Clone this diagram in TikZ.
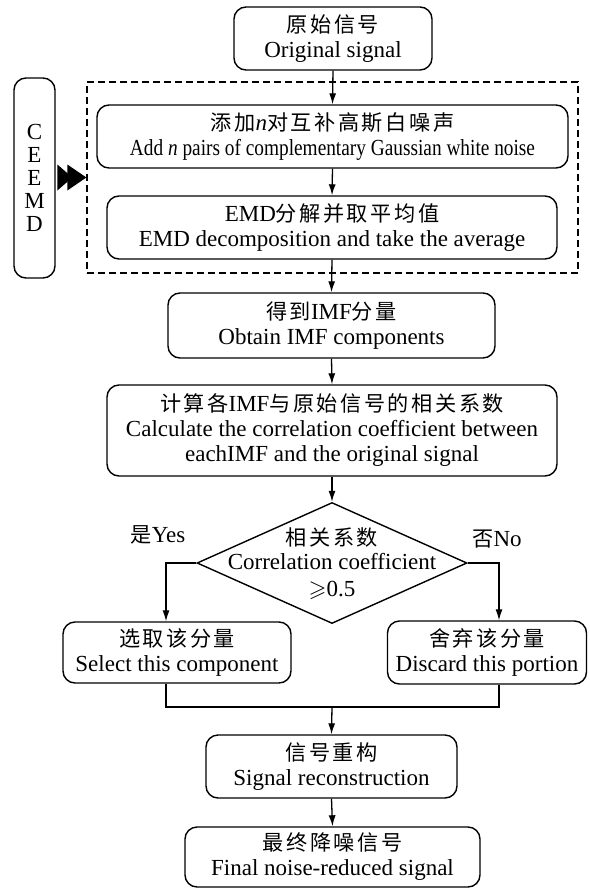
\documentclass[tikz,border=0pt]{standalone}
\usepackage{amssymb}
\usepackage{fontspec}
\setmainfont{Liberation Serif}
\newfontfamily\cjk[Scale=0.92,LetterSpace=12]{Noto Sans CJK SC}
\usetikzlibrary{arrows.meta,shapes.geometric,calc}
\begin{document}
\begin{tikzpicture}[x=1pt,y=-1pt,
  every node/.style={font=\fontsize{23}{25}\selectfont},
  box/.style={draw,line width=1.4pt,rounded corners=12pt,align=center,inner sep=0pt},
  conn/.style={line width=1.3pt},
  arr/.style={conn,-{Latex[length=11pt,width=7pt]}},
]
\useasboundingbox (0,0) rectangle (589,891);
\node[box,minimum width=198,minimum height=63] (orig) at (333,38.5) {{\cjk 原始信号}\\Original signal};
\node[draw,dashed,line width=1.3pt,dash pattern=on 7pt off 4pt,minimum width=491,minimum height=191,inner sep=0pt] (dash) at (332.5,177.5) {};
\node[box,minimum width=471,minimum height=63] (add) at (332.5,136.5) {{\cjk 添加}\textit{n}{\cjk 对互补高斯白噪声}\\\scalebox{0.84}[1]{Add \textit{n} pairs of complementary Gaussian white noise}};
\node[box,minimum width=450,minimum height=63] (emd) at (332,227.5) {EMD{\cjk 分解并取平均值}\\EMD decomposition and take the average};
\node[box,minimum width=41,minimum height=200] (ceemd) at (34.5,178) {C\\[-2pt]E\\[-2pt]E\\[-2pt]M\\[-2pt]D};
\node[box,minimum width=327,minimum height=65] (imf) at (331.5,325.5) {{\cjk 得到}IMF{\cjk 分量}\\Obtain IMF components};
\node[box,minimum width=450,minimum height=91] (calc) at (332,430.5) {{\cjk 计算各}IMF{\cjk 与原始信号的相关系数}\\Calculate the correlation coefficient between\\eachIMF and the original signal};
\node[draw,line width=1.4pt,diamond,aspect=2.23,minimum width=270,minimum height=121,inner sep=0pt,align=center] (diam) at (332,563) {};
\node[align=center] (dtext) at (332,564) {{\cjk 相关系数}\\[-1pt]Correlation coefficient\\[2pt]$\geqslant$0.5};
\node[box,minimum width=228,minimum height=61] (sel) at (177,652.5) {{\cjk 选取该分量}\\Select this component};
\node[box,minimum width=199,minimum height=63] (dis) at (487,652.5) {{\cjk 舍弃该分量}\\Discard this portion};
\node[box,minimum width=251,minimum height=63] (rec) at (331.5,766.5) {{\cjk 信号重构}\\Signal reconstruction};
\node[box,minimum width=295,minimum height=60] (fin) at (332.5,857) {{\cjk 最终降噪信号}\\Final noise-reduced signal};
\node (yes) at (158,535) {{\cjk 是}Yes};
\node (no) at (497,539) {{\cjk 否}No};
\coordinate (join) at (332,707);
\draw[arr] (orig.south) -- (add.north);
\draw[arr] (add.south) -- (emd.north);
\draw[arr] (emd.south) -- (imf.north);
\draw[arr] (imf.south) -- (calc.north);
\draw[arr] (calc.south) -- (diam.north);
\draw[arr] (diam.west) -| ([xshift=-11pt]sel.north);
\draw[arr] (diam.east) -| ([xshift=12pt]dis.north);
\draw[conn] ([xshift=-11pt]sel.south) |- (join) -| ([xshift=12pt]dis.south);
\draw[arr] (join) -- (rec.north);
\draw[arr] (rec.south) -- (fin.north);
\fill ($(dash.west)+(-29,-13)$) -- ($(dash.west)+(-14,0)$) -- ($(dash.west)+(-29,13)$) -- cycle;
\fill ($(dash.west)+(-19,-13)$) -- ($(dash.west)+(0,0)$) -- ($(dash.west)+(-19,13)$) -- cycle;
\end{tikzpicture}
\end{document}
